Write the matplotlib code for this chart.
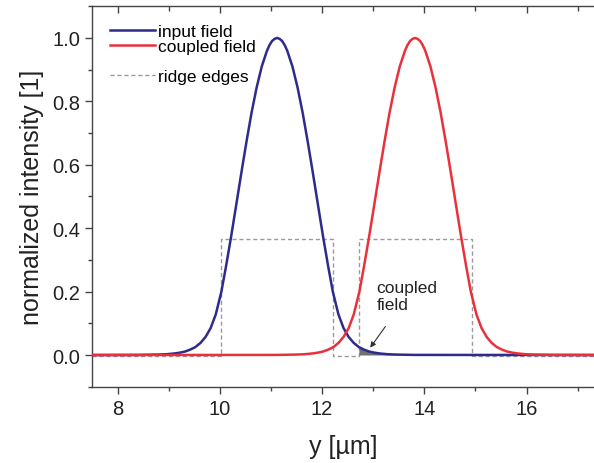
import numpy as np
import matplotlib
matplotlib.use("Agg")
import matplotlib.pyplot as plt
from matplotlib.ticker import MultipleLocator

plt.rcParams['font.family'] = ['Liberation Sans', 'DejaVu Sans']

# input field (mode of left ridge)
blue_y = [7.50, 8.42, 8.82, 8.97, 9.12, 9.22, 9.32, 9.42, 9.52, 9.62, 9.72, 9.82, 9.92,
          10.03, 10.12, 10.22, 10.32, 10.42, 10.52, 10.62, 10.72, 10.82, 10.92, 10.97, 11.02, 11.07,
          11.12, 11.17, 11.22, 11.27, 11.32, 11.42, 11.52, 11.62, 11.72, 11.82, 11.92, 12.02, 12.12,
          12.21, 12.32, 12.42, 12.52, 12.62, 12.72, 12.82, 12.92, 13.02, 13.12, 13.27,
          13.42, 13.82, 17.40]
blue_int = [0.0, 0.0003, 0.0015, 0.0027, 0.005, 0.0075, 0.011, 0.017, 0.025, 0.038, 0.057, 0.085, 0.128,
            0.200, 0.279, 0.373, 0.473, 0.574, 0.672, 0.764, 0.844, 0.910, 0.959, 0.977, 0.990, 0.997,
            1.0, 0.997, 0.990, 0.977, 0.959, 0.910, 0.844, 0.764, 0.672, 0.574, 0.473, 0.373, 0.279,
            0.200, 0.128, 0.085, 0.057, 0.038, 0.025, 0.017, 0.011, 0.0075, 0.005, 0.0027,
            0.0015, 0.0003, 0.0]

# coupled field (mode of right ridge)
red_y = [7.50, 11.12, 11.52, 11.67, 11.82, 11.92, 12.02, 12.12, 12.22, 12.32, 12.42, 12.52, 12.62,
         12.73, 12.82, 12.92, 13.02, 13.12, 13.22, 13.32, 13.42, 13.52, 13.62, 13.67, 13.72, 13.77,
         13.82, 13.87, 13.92, 13.97, 14.02, 14.12, 14.22, 14.32, 14.42, 14.52, 14.62, 14.72, 14.82,
         14.91, 15.02, 15.12, 15.22, 15.32, 15.42, 15.52, 15.62, 15.72, 15.82, 15.97,
         16.12, 16.52, 17.40]
red_int = [0.0, 0.0003, 0.0015, 0.0027, 0.005, 0.0075, 0.011, 0.017, 0.025, 0.038, 0.057, 0.085, 0.128,
           0.200, 0.279, 0.373, 0.473, 0.574, 0.672, 0.764, 0.844, 0.910, 0.959, 0.977, 0.990, 0.997,
           1.0, 0.997, 0.990, 0.977, 0.959, 0.910, 0.844, 0.764, 0.672, 0.574, 0.473, 0.373, 0.279,
           0.200, 0.128, 0.085, 0.057, 0.038, 0.025, 0.017, 0.011, 0.0075, 0.005, 0.0027,
           0.0015, 0.0003, 0.0]

# ridge edges (step profile)
ridge_y = [7.50, 10.03, 10.03, 12.21, 12.21, 12.73, 12.73, 14.93, 14.93, 17.40]
ridge_h = [-0.003, -0.003, 0.365, 0.365, -0.003, -0.003, 0.365, 0.365, -0.003, -0.003]

fig = plt.figure(figsize=(5.94, 4.64), dpi=100)
ax = fig.add_axes([0.155, 0.1644, 0.845, 0.820])

ax.plot(ridge_y, ridge_h, color='#9a9a9a', lw=1.0, dashes=(3, 2), label='ridge edges', zorder=1)
ax.plot(blue_y, blue_int, color='#2e2b8c', lw=1.8, label='input field', zorder=3)
ax.plot(red_y, red_int, color='#e8313c', lw=1.8, label='coupled field', zorder=4)

# overlap of input field with the second ridge
bx = np.array(blue_y)
bi = np.array(blue_int)
ax.fill_between(bx, 0, bi, where=(bx >= 12.72) & (bx <= 14.93), color='#707070', lw=0, zorder=2)

ax.text(13.06, 0.187, 'coupled\nfield', fontsize=12.5, color='#222222', ha='left', va='center',
        linespacing=1.15)
ax.annotate('', xy=(12.91, 0.016), xytext=(13.27, 0.097),
            arrowprops=dict(arrowstyle='-|>', color='#333333', lw=0.8, mutation_scale=8))

ax.set_xlim(7.5, 17.32)
ax.set_ylim(-0.1, 1.1)
ax.xaxis.set_major_locator(MultipleLocator(2))
ax.xaxis.set_minor_locator(MultipleLocator(1))
ax.yaxis.set_minor_locator(MultipleLocator(0.1))
ax.set_yticks([0.0, 0.2, 0.4, 0.6, 0.8, 1.0])
ax.set_yticklabels(['0.0', '0.2', '0.4', '0.6', '0.8', '1.0'])

for s in ['left', 'bottom', 'top']:
    ax.spines[s].set_color('#444444')
    ax.spines[s].set_linewidth(1.0)
ax.spines['right'].set_visible(False)

ax.tick_params(axis='both', which='major', labelsize=14.5, colors='#444444', labelcolor='#222222',
               length=5, width=1.0, direction='out')
ax.tick_params(axis='both', which='minor', colors='#444444', length=3, width=1.0, direction='out')

# top axis: inward tick marks at the same locations as the bottom ticks
xmin, xmax = ax.get_xlim()
locs = [v for v in ax.xaxis.get_majorticklocs() if xmin <= v <= xmax]
mlocs = [v for v in ax.xaxis.get_minorticklocs() if xmin <= v <= xmax]
trans = ax.get_xaxis_transform()
ax.vlines(locs, 0.982, 1.0, transform=trans, colors='#444444', lw=1.0, clip_on=False, zorder=5)
ax.vlines(mlocs, 0.988, 1.0, transform=trans, colors='#444444', lw=1.0, clip_on=False, zorder=5)

ax.set_xlabel('y [µm]', fontsize=18, color='#222222', labelpad=12)
ax.set_ylabel('normalized intensity [1]', fontsize=18, color='#222222', labelpad=6)

h, l = ax.get_legend_handles_labels()
leg1 = ax.legend([h[1], h[2]], [l[1], l[2]], loc='upper left', bbox_to_anchor=(0.036, 0.953),
                 frameon=False, fontsize=12.5, handlelength=2.6, handletextpad=0.15,
                 labelspacing=0.0, borderpad=0, borderaxespad=0)
ax.add_artist(leg1)
ax.legend([h[0]], [l[0]], loc='upper left', bbox_to_anchor=(0.036, 0.835),
          frameon=False, fontsize=12.5, handlelength=2.6, handletextpad=0.15,
          borderpad=0, borderaxespad=0)

fig.savefig('out.png', dpi=100)
